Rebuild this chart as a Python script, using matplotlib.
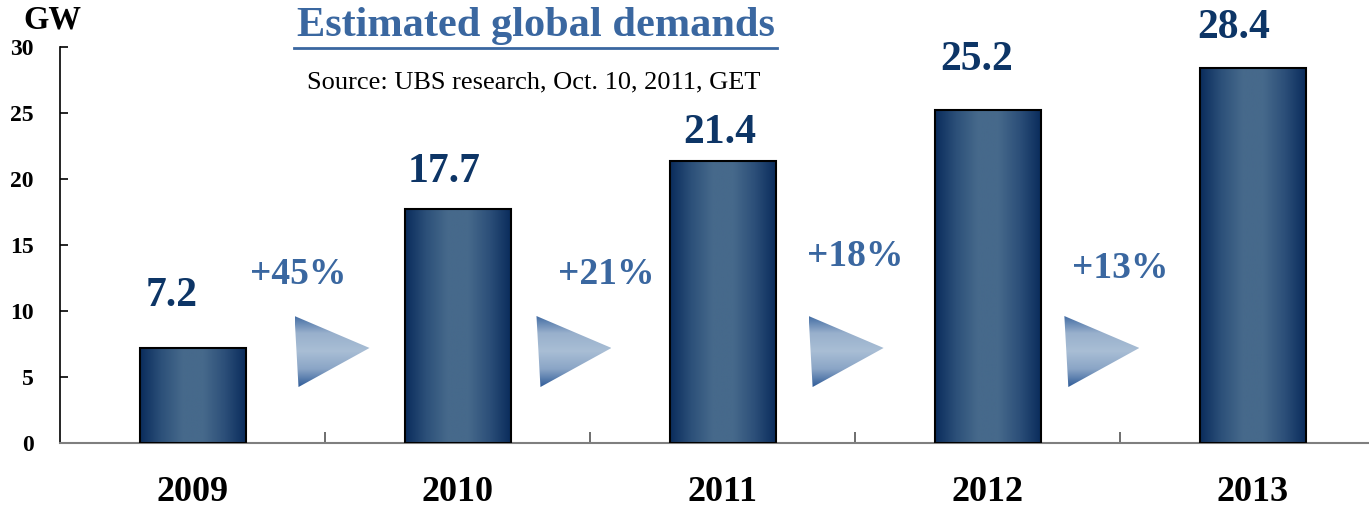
import numpy as np
import matplotlib
matplotlib.use("Agg")
import matplotlib.pyplot as plt
from matplotlib.colors import LinearSegmentedColormap
from matplotlib.patches import Polygon
from matplotlib.lines import Line2D

plt.rcParams["font.family"] = ["Liberation Serif", "DejaVu Serif"]

# data
years = ["2009", "2010", "2011", "2012", "2013"]
demand_gw = [7.2, 17.7, 21.4, 25.2, 28.4]
growth_labels = ["+45%", "+21%", "+18%", "+13%"]

# label placement tweaks (data units, relative to bar centre / bar top)
value_dx = [-0.08, -0.05, -0.01, -0.04, -0.07]
value_dy = [3.95, 2.85, 2.1, 3.85, 3.05]
growth_x = [0.40, 1.56, 2.50, 3.50]
growth_y = [12.75, 12.75, 14.15, 13.2]
arrow_left = [0.385, 1.298, 2.325, 3.29]

navy = "#0d3566"
mid_blue = "#3a67a0"

bar_cmap = LinearSegmentedColormap.from_list(
    "bar", ["#0a2c5c", "#2c5079", "#46698b", "#46698b", "#2c4f79", "#0a2c5c"])
tri_cmap = LinearSegmentedColormap.from_list(
    "tri", ["#305c98", "#8aa5c6", "#a9bed5", "#98b0cc", "#3f69a2"])

W, H = 1369, 507
fig = plt.figure(figsize=(W / 100, H / 100), dpi=100)
ax = fig.add_axes([60 / W, (H - 443) / H, (1385 - 60) / W, (443 - 47) / H])

x = np.arange(len(years))
bars = ax.bar(x, demand_gw, width=0.4, color="none", edgecolor="black",
              linewidth=1.5, zorder=3)

grad = np.linspace(0, 1, 256).reshape(1, -1)
for b in bars:
    x0, y0 = b.get_x(), b.get_y()
    im = ax.imshow(grad, cmap=bar_cmap, aspect="auto", zorder=2,
                   extent=[x0, x0 + b.get_width(), y0, y0 + b.get_height()])
    im.set_clip_path(b)

# arrows between bars
tri_top, tri_bot, tri_mid = 9.62, 4.24, 7.2
tri_w = 0.283
vgrad = np.linspace(0, 1, 256).reshape(-1, 1)
for xl in arrow_left:
    tri = Polygon([[xl, tri_top], [xl + 0.015, tri_bot], [xl + tri_w, tri_mid]],
                  closed=True, facecolor="none", edgecolor="none", zorder=2)
    ax.add_patch(tri)
    im = ax.imshow(vgrad, cmap=tri_cmap, aspect="auto", zorder=2,
                   extent=[xl, xl + tri_w, tri_bot, tri_top], origin="lower")
    im.set_clip_path(tri)

for i, v in enumerate(demand_gw):
    ax.text(i + value_dx[i], v + value_dy[i], f"{v:.1f}", ha="center",
            va="center", fontsize=30, fontweight="bold", color=navy,
            clip_on=False)

for gx, gy, g in zip(growth_x, growth_y, growth_labels):
    ax.text(gx, gy, g, ha="center", va="center", fontsize=27,
            fontweight="bold", color=mid_blue)

ax.set_xlim(-0.5, 4.5)
ax.set_ylim(0, 30)

ax.spines["top"].set_visible(False)
ax.spines["right"].set_visible(False)
ax.spines["left"].set_linewidth(1.2)
ax.spines["bottom"].set_color("#7f7f7f")
ax.spines["bottom"].set_linewidth(1.5)

ax.set_yticks(range(0, 31, 5))
ax.tick_params(axis="y", direction="in", length=6, width=1.2, pad=19,
               labelsize=17)
for lab in ax.get_yticklabels():
    lab.set_fontweight("bold")

ax.set_xticks(x)
ax.set_xticklabels(years, fontsize=26, fontweight="bold")
ax.tick_params(axis="x", which="major", length=0, pad=24)
ax.set_xticks(np.arange(0.5, 4.5, 1), minor=True)
ax.tick_params(axis="x", which="minor", direction="in", length=8, width=1.2,
               color="#555555")

fig.text(52 / W, 1 - 20 / H, "GW", ha="center", va="center", fontsize=23.5,
         fontweight="bold")
fig.text(536 / W, 1 - 26 / H, "Estimated global demands", ha="center",
         va="center", fontsize=30.5, fontweight="bold", color=mid_blue)
fig.add_artist(Line2D([294 / W, 777 / W], [1 - 48 / H, 1 - 48 / H],
                      color=mid_blue, linewidth=2))
fig.text(534 / W, 1 - 82 / H, "Source: UBS research, Oct. 10, 2011, GET",
         ha="center", va="center", fontsize=19)

fig.savefig("out.png", dpi=100)
